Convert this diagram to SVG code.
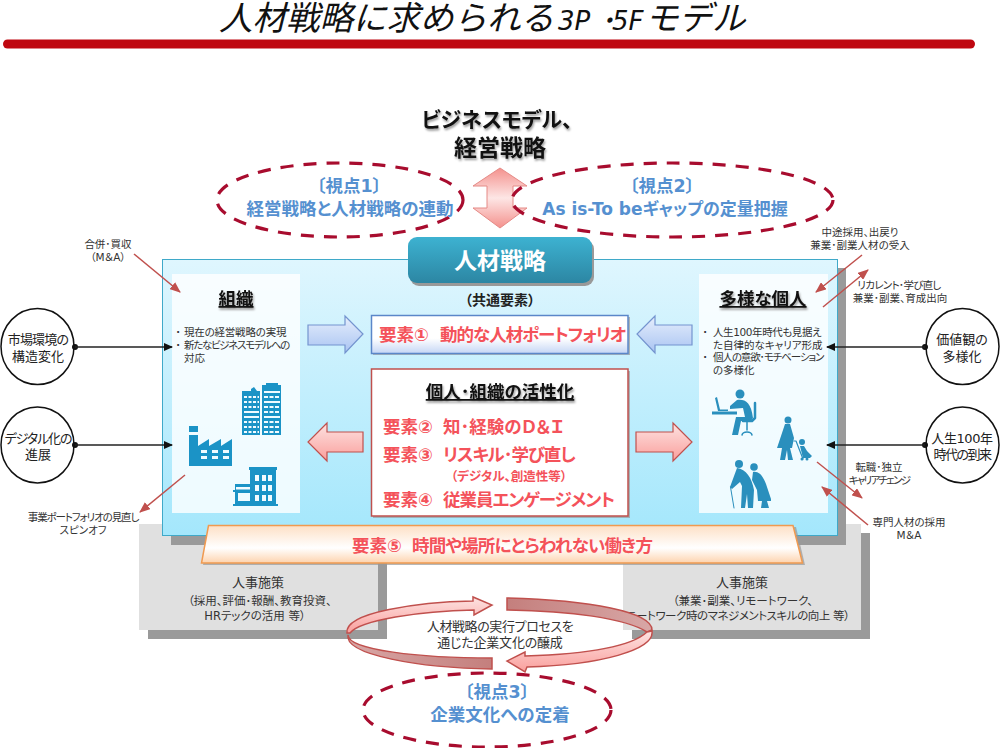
<svg xmlns="http://www.w3.org/2000/svg" width="1000" height="748" viewBox="0 0 1000 748">
<style>
text{font-family:"DejaVu Sans","Noto Sans CJK JP",sans-serif;text-anchor:middle;font-feature-settings:"palt"}
.s{font-size:10.500px;fill:#333}
.b{font-weight:700}
.m{font-size:13px;fill:#333}
.u{font-size:11.500px;fill:#333}
.c{font-size:13px;fill:#222}
.v{font-size:17.500px;font-weight:700;fill:#5590d0}
.r{font-size:17.500px;font-weight:700;fill:#f4525a}
.t1{letter-spacing:-1px}
.h{font-size:17.500px;font-weight:700;fill:#111;text-decoration:underline}
.l{text-anchor:start}
.d{fill:none;stroke:#a80c2e;stroke-width:3.200;stroke-dasharray:13 10}
.sh{fill:#9a9a9a}
.i{fill:#1b93c6}
.p{fill:#2a8fbd}
.ps{stroke:#2a8fbd;fill:none;stroke-linecap:round;stroke-linejoin:round}
.k{stroke:#222;stroke-width:1.600;fill:none;marker-end:url(#ka)}
.e{stroke:#c0504d;stroke-width:1.500;fill:none;marker-end:url(#ra)}
.ci{fill:#fff;stroke:#111;stroke-width:1.500}
.w{fill:#f2fbff}
.wd{stroke:#f2fbff;stroke-width:2;fill:none}
.ts{filter:drop-shadow(1px 2px 1px #999)}
</style>
<defs>
<marker id="ka" markerWidth="9" markerHeight="8" refX="8" refY="4" orient="auto" markerUnits="userSpaceOnUse"><path d="M0 0L9 4L0 8Z" fill="#111"/></marker>
<marker id="ra" markerWidth="11" markerHeight="9" refX="10" refY="4.500" orient="auto" markerUnits="userSpaceOnUse"><path d="M0 0L11 4.500L0 9Z" fill="#c0504d"/></marker>
<linearGradient id="bg" x1="0" y1="0" x2="0" y2="1"><stop offset="0" stop-color="#dff6fe"/><stop offset="1" stop-color="#a4e7fc"/></linearGradient>
<linearGradient id="tl" x1="0" y1="0" x2="0" y2="1"><stop offset="0" stop-color="#3db2d1"/><stop offset="1" stop-color="#2c86a3"/></linearGradient>
<linearGradient id="pk" x1="0" y1="0" x2="0" y2="1"><stop offset="0" stop-color="#fde3e2"/><stop offset="1" stop-color="#fa9f9c"/></linearGradient>
<linearGradient id="pkv" x1="0" y1="0" x2="0" y2="1"><stop offset="0" stop-color="#f4918d"/><stop offset=".5" stop-color="#fde6e5"/><stop offset="1" stop-color="#f4918d"/></linearGradient>
<linearGradient id="bl" x1="0" y1="0" x2="0" y2="1"><stop offset="0" stop-color="#e6eefc"/><stop offset="1" stop-color="#a9c4f2"/></linearGradient>
<linearGradient id="bx" x1="0" y1="0" x2="0" y2="1"><stop offset="0" stop-color="#fff"/><stop offset=".6" stop-color="#fff"/><stop offset="1" stop-color="#c5d6f5"/></linearGradient>
<linearGradient id="or" x1="0" y1="0" x2="0" y2="1"><stop offset="0" stop-color="#fde0c6"/><stop offset=".6" stop-color="#fff"/><stop offset="1" stop-color="#fdd3ae"/></linearGradient>
<linearGradient id="dk" x1="0" y1="0" x2="1" y2="0"><stop offset="0" stop-color="#d8a7a6"/><stop offset="1" stop-color="#c47f7d"/></linearGradient>
<linearGradient id="dk2" x1="0" y1="0" x2="1" y2="0"><stop offset="0" stop-color="#c47f7d"/><stop offset="1" stop-color="#d8a7a6"/></linearGradient>
</defs>

<g id="title">
<text x="219" y="30" font-size="33.500" font-style="italic" fill="#111" style="text-anchor:start;font-feature-settings:normal">人材戦略に求められる<tspan x="558" font-size="26">3P</tspan><tspan x="601" font-size="26" font-weight="700">･</tspan><tspan x="612" font-size="26">5F</tspan><tspan x="645">モデル</tspan></text>
<rect x="3" y="39.500" width="972" height="9" rx="4.500" fill="#bf0710"/>
</g>

<g id="hr-left"><rect x="148" y="533" width="239" height="106" class="sh"/><rect x="139" y="524" width="239" height="106" fill="#e0e0e0"/>
<text x="258" y="587" class="m">人事施策</text><text x="260" y="605" class="u">（採用、評価･報酬、教育投資、</text><text x="255" y="620" class="u">HRテックの活用 等）</text></g>
<g id="hr-right"><rect x="632" y="533" width="238" height="106" class="sh"/><rect x="623" y="524" width="238" height="106" fill="#e0e0e0"/>
<text x="742" y="587" class="m">人事施策</text><text x="743" y="605" class="u">（兼業･副業、リモートワーク、</text><text x="733" y="620" class="u" letter-spacing="-.45">リモートワーク時のマネジメントスキルの向上 等）</text></g>

<g id="main">
<rect x="171" y="268" width="675" height="277" class="sh"/>
<rect x="162.500" y="259.500" width="675" height="276" fill="url(#bg)" stroke="#3fa9c9" stroke-width="1"/>
</g>
<g id="title-strategy">
<rect x="410" y="240" width="184" height="46" rx="9" fill="#999"/>
<rect x="408" y="237" width="184" height="46" rx="9" fill="url(#tl)"/>
<text x="500" y="269" font-size="23" font-weight="700" fill="#fff">人材戦略</text>
</g>
<text x="500" y="305" font-size="14" font-weight="700" fill="#222" id="common">（共通要素）</text>

<g id="org">
<rect x="172" y="274" width="128" height="239" fill="#fff" fill-opacity=".8"/>
<text x="236" y="305" class="h ts">組織</text>
<text x="178" y="336" class="s b">･</text><text x="184" y="336" class="s l" letter-spacing="-.2">現在の経営戦略の実現</text>
<text x="178" y="349" class="s b">･</text><text x="184" y="349" class="s l" letter-spacing="-1.300">新たなビジネスモデルへの</text>
<text x="184" y="362" class="s l">対応</text>
<path class="i" d="M242 435V391L251 391V389L254 387L257 391H260V435ZM262 435V385H266V383H278V385H281V435Z"/>
<g class="wd"><path stroke-dasharray="3 1.500" d="M244 397H259M244 402H259M244 407H259M244 422H259M244 427H259M244 432H259"/><path d="M244 412H259M244 417H259"/>
<path d="M264 392H280M264 402H280M264 417H280"/><path stroke-dasharray="4 1.500" d="M264 397H280M264 407H280M264 412H280M264 422H280M264 427H280M264 432H280"/></g>
<path class="i" d="M189 466V435H198V446L209 439V446L221 439V446L232 439V466Z"/><rect class="i" x="189" y="426" width="9" height="6"/>
<g class="w"><rect x="201" y="450" width="6" height="3"/><rect x="212" y="450" width="6" height="3"/><rect x="223" y="450" width="6" height="3"/><rect x="201" y="456" width="6" height="3"/><rect x="212" y="456" width="6" height="3"/><rect x="223" y="456" width="6" height="3"/></g>
<path class="i" fill-rule="evenodd" d="M250 484V470H249V467H277V470H276V504H278V506H233V504H235V492H233V490H235V484ZM238 493H250V501H238Z"/>
<rect x="236" y="487" width="14" height="2.500" class="w"/>
<g class="w"><rect x="255" y="475" width="4" height="6"/><rect x="262" y="475" width="4" height="6"/><rect x="268" y="475" width="4" height="6"/><rect x="255" y="485" width="4" height="6"/><rect x="262" y="485" width="4" height="6"/><rect x="268" y="485" width="4" height="6"/><rect x="255" y="495" width="4" height="6"/><rect x="262" y="495" width="4" height="6"/><rect x="268" y="495" width="4" height="6"/></g>
</g>

<g id="people">
<rect x="699" y="274" width="129" height="239" fill="#fff" fill-opacity=".8"/>
<text x="763" y="305" class="h ts">多様な個人</text>
<text x="705" y="336" class="s b">･</text><text x="713" y="336" class="s l" letter-spacing="-.4">人生100年時代も見据え</text>
<text x="713" y="349" class="s l">た自律的なキャリア形成</text>
<text x="705" y="361" class="s b">･</text><text x="713" y="361" class="s l" letter-spacing="-1.100">個人の意欲･モチベーション</text>
<text x="713" y="374" class="s l">の多様化</text>
<g><circle class="p" cx="740" cy="394" r="4.500"/>
<path class="p" d="M737 400C745 399 751 402 753 418L751 421H741L738 435H732L736 417H745L743 408L730 409V406Z"/>
<path class="p" d="M712 411.500H737V414.500H712ZM715 398L717 397L720 409.500H728V411H718Z"/>
<path class="ps" stroke-width="2.500" d="M755 403V418L752 421H743"/><path class="ps" stroke-width="1.500" d="M747 422V430M742 435C743 431 751 431 752 435"/></g>
<g><circle class="p" cx="788" cy="420" r="3.500"/><path class="p" d="M785 424H790L794 438L792 448H790L793 460H788L787 450L785 460H780L782 448H777Z"/><path class="ps" stroke-width="1.200" d="M794 441H796L803 459"/><circle class="p" cx="802" cy="442" r="3"/><path class="p" d="M800 446H804L807 451L812 456L810 458H803Z"/><circle class="p" cx="802" cy="459" r="1.500"/><circle class="p" cx="807" cy="459" r="1.500"/></g>
<g><circle class="p" cx="739" cy="464" r="4"/><circle class="p" cx="754" cy="467" r="3.800"/>
<path class="p" d="M737 468C746 469 752 478 754 490L753 508H748L747 494L745 508H741L742 486L740 482L732 489L730 487Z"/>
<path class="p" d="M753 472C759 471 763 476 766 484L771 499V501H767L769 508H761L762 501H758L757 490L752 480Z"/><path class="ps" stroke-width="1" d="M730.500 487L734 508"/></g>
</g>

<g id="el1">
<rect x="373" y="317" width="257" height="38" class="sh" opacity=".7"/>
<rect x="371.500" y="315.500" width="256.500" height="38" fill="url(#bx)" stroke="#5b87c9" stroke-width="1.500"/>
<text x="379" y="341" class="r l">要素①<tspan x="440" class="t1">動的な人材ポートフォリオ</tspan></text>
</g>
<g id="el-active">
<rect x="373" y="371" width="257" height="147" class="sh" opacity=".7"/>
<rect x="371.500" y="369" width="256.500" height="147" fill="#fff" stroke="#c0504d" stroke-width="1.500"/>
<text x="500" y="398" class="h ts">個人･組織の活性化</text>
<text x="383" y="433" class="r l">要素②<tspan x="443">知･経験のＤ＆Ｉ</tspan></text>
<text x="383" y="461" class="r l">要素③<tspan x="443" class="t1">リスキル･学び直し</tspan></text>
<text x="509" y="481" font-size="12.500" font-weight="700" fill="#f4525a">（デジタル、創造性等）</text>
<text x="383" y="506" class="r l">要素④<tspan x="443" class="t1">従業員エンゲージメント</tspan></text>
</g>

<g id="el5">
<path d="M210 527H796L805 565H203Z" fill="#999" opacity=".7"/>
<path d="M208.500 525.500H793L802.500 563H201.500Z" fill="url(#or)" stroke="#f09a50" stroke-width="1.500"/>
<text x="352" y="552" class="r l">要素⑤<tspan x="412" letter-spacing="-.8">時間や場所にとらわれない働き方</tspan></text>
</g>

<g id="biz-model" class="ts">
<text x="497" y="127" font-size="21" font-weight="700" fill="#111">ビジネスモデル、</text>
<text x="500" y="156" font-size="23" font-weight="700" fill="#111">経営戦略</text>
</g>

<g id="conn-arrow">
<path d="M500 168L527 186H513V208H527L500 228L473 208H487V186H473Z" fill="url(#pkv)" stroke="#e58a86" stroke-width="1"/>
</g>

<g id="view1"><ellipse cx="340" cy="200" rx="123" ry="37" class="d"/>
<text x="349" y="192" class="v">〔視点1〕</text><text x="350" y="215" class="v">経営戦略と人材戦略の連動</text></g>
<g id="view2"><ellipse cx="672.500" cy="200" rx="160.500" ry="37" class="d"/>
<text x="662" y="192" class="v">〔視点2〕</text><text x="665" y="215" class="v" style="font-size:17px">As is-To beギャップの定量把握</text></g>

<g id="cycle">
<path d="M347 633C344 612 420 602 473 601V597L492 605L474 615V610C420 611 360 620 350 633Z" fill="url(#pk)" stroke="#c0504d" stroke-width="1.500"/>
<path d="M348 635C348 650 420 658 492 658V669C420 668 344 655 348 635Z" fill="url(#dk)" stroke="#c0504d" stroke-width="1.500"/>
<path d="M507 598C590 600 652 612 652 630L647 632C625 618 570 611 507 610Z" fill="url(#dk2)" stroke="#c0504d" stroke-width="1.500"/>
<path d="M652 631C655 650 600 665 527 667L525 672L507 661L525 652L525 656C590 654 632 646 647 632Z" fill="url(#pk)" stroke="#c0504d" stroke-width="1.500"/>
<text x="500" y="631" class="m" letter-spacing="-.4">人材戦略の実行プロセスを</text>
<text x="500" y="647" class="m" letter-spacing="-.2">通じた企業文化の醸成</text>
</g>
<g id="view3"><ellipse cx="487" cy="710" rx="124" ry="37" class="d"/>
<text x="497" y="698" class="v">〔視点3〕</text><text x="500" y="721" class="v">企業文化への定着</text></g>

<g id="env1"><ellipse cx="37.500" cy="346.500" rx="36.500" ry="38" class="ci"/><text x="38" y="344" class="c" letter-spacing="-.8">市場環境の</text><text x="38" y="361" class="c">構造変化</text></g>
<g id="env2"><ellipse cx="37.500" cy="445" rx="36.500" ry="38" class="ci"/><text x="38" y="443" class="c" letter-spacing="-1.200">デジタル化の</text><text x="38" y="459" class="c">進展</text></g>
<g id="env3"><ellipse cx="962.500" cy="346.500" rx="36.500" ry="38" class="ci"/><text x="962" y="344" class="c">価値観の</text><text x="962" y="361" class="c">多様化</text></g>
<g id="env4"><ellipse cx="962.500" cy="445" rx="36.500" ry="38" class="ci"/><text x="962" y="443" class="c" letter-spacing="-.4">人生100年</text><text x="962" y="459" class="c" letter-spacing="-1.500">時代の到来</text></g>

<g id="labels">
<text x="108" y="248" class="s">合併･買収</text><text x="108" y="261" class="s">（M＆A）</text>
<text x="860" y="236" class="s">中途採用、出戻り</text><text x="860" y="249" class="s">兼業･副業人材の受入</text>
<text x="899" y="289" class="s" letter-spacing="-.7">リカレント･学び直し</text><text x="900" y="302" class="s">兼業･副業、育成出向</text>
<text x="83" y="521" class="s" letter-spacing="-1.100">事業ポートフォリオの見直し</text><text x="83" y="534" class="s">スピンオフ</text>
<text x="879" y="471" class="s">転職･独立</text><text x="879" y="484" class="s" letter-spacing="-1.700">キャリアチェンジ</text>
<text x="909" y="526" class="s">専門人材の採用</text><text x="909" y="539" class="s">M＆A</text>
</g>

<g id="block-arrows">
<path d="M308 325H345V316L363 334L345 353V345H308Z" fill="url(#bl)" stroke="#7494cf" stroke-width="1.200"/>
<path d="M692 325H655V316L637 334L655 353V345H692Z" fill="url(#bl)" stroke="#7494cf" stroke-width="1.200"/>
<path d="M363 432H327V423L308 442L327 461V452H363Z" fill="url(#pk)" stroke="#c0504d" stroke-width="1.200"/>
<path d="M636 432H673V423L692 442L673 461V452H636Z" fill="url(#pk)" stroke="#c0504d" stroke-width="1.200"/>
</g>

<g id="connectors">
<circle cx="75" cy="347" r="3" fill="#111"/><circle cx="75" cy="445" r="3" fill="#111"/><circle cx="925" cy="347" r="3" fill="#111"/><circle cx="925" cy="445" r="3" fill="#111"/>
<path class="k" d="M75 347H172"/>
<path class="k" d="M75 445H172"/>
<path class="k" d="M925 347H827"/>
<path class="k" d="M925 445H827"/>
<path class="e" d="M134 254L180 292"/>
<path class="e" d="M185 475L140 512"/>
<path class="e" d="M862 255L816 292"/>
<path class="e" d="M823 307L868 270"/>
<path class="e" d="M817 462L862 498"/>
<path class="e" d="M868 525L822 487"/>
</g>
</svg>
